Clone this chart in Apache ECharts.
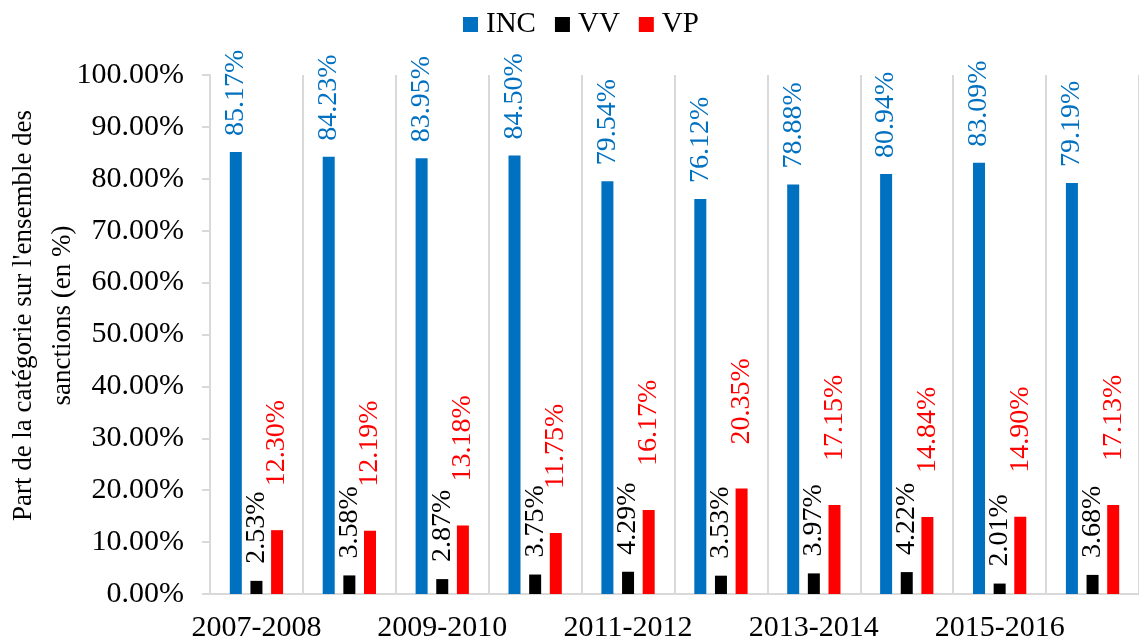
<!DOCTYPE html>
<html>
<head>
<meta charset="utf-8">
<script src="https://cdn.jsdelivr.net/npm/echarts@6/dist/echarts.min.js"></script>
<style>
  html, body { margin: 0; padding: 0; background: #fff; }
  #main { width: 1139px; height: 643px; }
</style>
</head>
<body>
<div id="main"></div>
<script>
// saisons
var categories = ['2007-2008', '2008-2009', '2009-2010', '2010-2011', '2011-2012',
                  '2012-2013', '2013-2014', '2014-2015', '2015-2016', '2016-2017'];
// parts en %
var incValues = [85.17, 84.23, 83.95, 84.50, 79.54, 76.12, 78.88, 80.94, 83.09, 79.19];
var vvValues = [2.53, 3.58, 2.87, 3.75, 4.29, 3.53, 3.97, 4.22, 2.01, 3.68];
var vpValues = [12.30, 12.19, 13.18, 11.75, 16.17, 20.35, 17.15, 14.84, 14.90, 17.13];
var yTicks = [0, 10, 20, 30, 40, 50, 60, 70, 80, 90, 100];

var font = "'Liberation Serif', 'Times New Roman', serif";

function pct(v) {
  return v.toFixed(2) + '%';
}

function barSeries(name, data, color, dist) {
  return {
    name: name,
    type: 'bar',
    data: data,
    barWidth: 12,
    barGap: '72%',
    itemStyle: { color: color },
    label: {
      show: true,
      position: 'top',
      rotate: 90,
      align: 'left',
      verticalAlign: 'middle',
      distance: dist,
      color: color,
      fontFamily: font,
      fontSize: 28,
      fontWeight: 'normal',
      formatter: function (p) { return pct(p.value); }
    }
  };
}

var chart = echarts.init(document.getElementById('main'));
chart.setOption({
  animation: false,
  textStyle: { fontFamily: font },
  legend: {
    top: 5,
    left: 458,
    icon: 'rect',
    itemWidth: 15,
    itemHeight: 15,
    itemGap: 19,
    textStyle: { fontFamily: font, fontSize: 29, color: '#000', padding: [0, 0, 0, 3] },
    data: ['INC', 'VV', 'VP']
  },
  grid: { left: 210, right: 0, top: 75, bottom: 49, outerBoundsMode: 'none', containLabel: false },
  xAxis: {
    type: 'category',
    data: categories,
    axisLine: { lineStyle: { color: '#d9d9d9', width: 2 } },
    axisTick: { show: false },
    splitLine: { show: true, interval: 0, lineStyle: { color: '#d9d9d9', width: 2 } },
    axisLabel: {
      interval: 1,
      margin: 19,
      fontFamily: font,
      fontSize: 30,
      color: '#000'
    }
  },
  yAxis: {
    type: 'value',
    min: yTicks[0],
    max: yTicks[yTicks.length - 1],
    interval: 10,
    name: "Part de la catégorie sur l'ensemble des\nsanctions (en %)",
    nameLocation: 'middle',
    nameGap: 128,
    nameMoveOverlap: false,
    nameTextStyle: {
      fontFamily: font,
      fontSize: 27,
      color: '#000',
      lineHeight: 39,
      padding: [0, 0, 0, 38]
    },
    axisLine: { show: true, lineStyle: { color: '#d9d9d9', width: 2 } },
    axisTick: { show: true, length: 8, lineStyle: { color: '#d9d9d9', width: 2 } },
    splitLine: { show: false },
    axisLabel: {
      margin: 26,
      fontFamily: font,
      fontSize: 30,
      color: '#000',
      formatter: function (v) { return pct(v); }
    }
  },
  series: [
    barSeries('INC', incValues, '#0070C0', 16),
    barSeries('VV', vvValues, '#000000', 17),
    barSeries('VP', vpValues, '#FF0000', 44)
  ]
});
</script>
</body>
</html>
